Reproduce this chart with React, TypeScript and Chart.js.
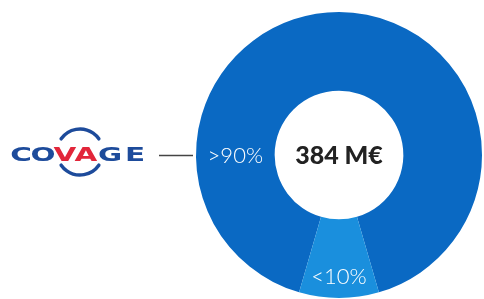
import React, { useEffect, useRef } from "react";
import { Chart, registerables } from "chart.js";

Chart.register(...registerables);

const sliceLabels = [">90%", "<10%"];
const sliceValues = [91, 9];
const sliceColors = ["#0a69c3", "#1a8fdd"];
const centerText = "384 M€";
const logoLetters = ["C", "O", "V", "A", "G", "E"];
const logoLetterColors = ["#1d4b9b", "#1d4b9b", "#e2263a", "#e2263a", "#1d4b9b", "#1d4b9b"];

const overlayPlugin = {
  id: "overlay",
  afterDatasetsDraw(chart: any) {
    const ctx = chart.ctx as CanvasRenderingContext2D;
    const meta = chart.getDatasetMeta(0);
    const arcs = meta.data;
    if (!arcs.length) return;
    const a0: any = arcs[0];
    const cx = a0.x;
    const cy = a0.y;
    const inner = a0.innerRadius;
    const outer = a0.outerRadius;

    ctx.save();
    ctx.fillStyle = "#ffffff";
    ctx.textAlign = "center";
    ctx.textBaseline = "middle";
    ctx.font = "300 22px Lato, 'Open Sans', sans-serif";
    const rMid = (inner + outer) / 2;
    ctx.fillText(sliceLabels[0], cx - rMid, cy + 1);

    const a1: any = arcs[1];
    const mid = (a1.startAngle + a1.endAngle) / 2;
    const r1 = inner + 0.73 * (outer - inner);
    ctx.fillText(sliceLabels[1], cx + Math.cos(mid) * r1, cy + Math.sin(mid) * r1);

    ctx.fillStyle = "#222222";
    ctx.font = "900 25px Lato, 'Open Sans', sans-serif";
    ctx.fillText(centerText, cx, cy + 1);

    const leftEdge = cx - outer;
    ctx.strokeStyle = "#444444";
    ctx.lineWidth = 1.5;
    ctx.beginPath();
    ctx.moveTo(leftEdge - 37, cy + 0.5);
    ctx.lineTo(leftEdge - 3, cy + 0.5);
    ctx.stroke();

    const centers = [21, 43, 65, 86, 110, 135];
    ctx.font = "bold 19px 'DejaVu Sans', sans-serif";
    ctx.textBaseline = "alphabetic";
    logoLetters.forEach((ch, i) => {
      ctx.fillStyle = logoLetterColors[i];
      ctx.save();
      ctx.translate(centers[i], 161);
      ctx.scale(1.55, 1);
      ctx.fillText(ch, 0, 0);
      ctx.restore();
    });
    ctx.strokeStyle = "#1d4b9b";
    ctx.lineWidth = 3.5;
    ctx.lineCap = "round";
    ctx.beginPath();
    ctx.arc(80, 152, 23, (-145 * Math.PI) / 180, (-35 * Math.PI) / 180);
    ctx.stroke();
    ctx.beginPath();
    ctx.arc(80, 152, 23, (35 * Math.PI) / 180, (145 * Math.PI) / 180);
    ctx.stroke();
    ctx.restore();
  },
};

export default function App() {
  const ref = useRef<HTMLCanvasElement | null>(null);
  useEffect(() => {
    if (!ref.current) return;
    const total = sliceValues[0] + sliceValues[1];
    const bigAngle = (sliceValues[0] / total) * 360;
    const smallMid = bigAngle + ((sliceValues[1] / total) * 360) / 2;
    const chart = new Chart(ref.current, {
      type: "doughnut",
      data: {
        labels: sliceLabels,
        datasets: [
          {
            data: sliceValues,
            backgroundColor: sliceColors,
            borderWidth: 0,
          },
        ],
      },
      options: {
        animation: false,
        responsive: false,
        maintainAspectRatio: false,
        cutout: "45%",
        rotation: 180 - smallMid,
        layout: { padding: { left: 196, right: 2, top: 12, bottom: 1 } },
        plugins: {
          legend: { display: false },
          tooltip: { enabled: false },
        },
      },
      plugins: [overlayPlugin],
    });
    return () => chart.destroy();
  }, []);
  return (
    <div style={{ position: "absolute", left: 0, top: 0, width: 484, height: 299, background: "#ffffff" }}>
      <canvas ref={ref} width={484} height={299} style={{ display: "block" }} />
    </div>
  );
}
